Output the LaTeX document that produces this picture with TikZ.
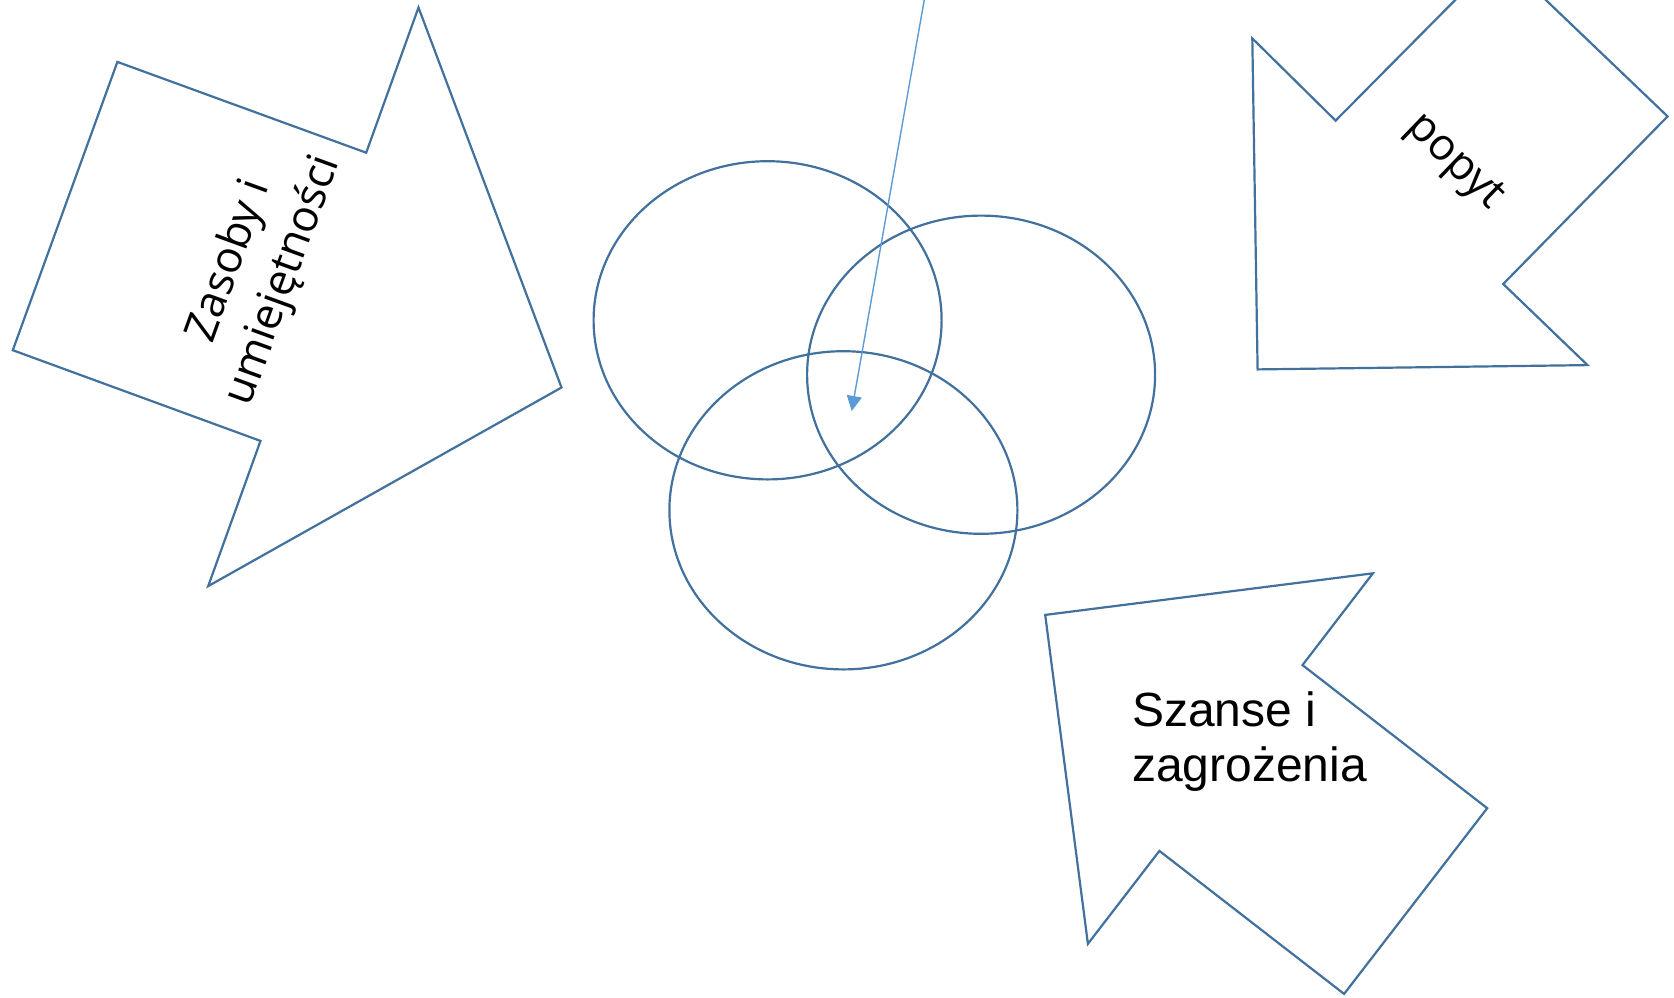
\documentclass[tikz,border=0pt]{standalone}
\usepackage{fontspec}
\newfontfamily\osans{Open Sans}
\newfontfamily\arialf{Liberation Sans}
\usetikzlibrary{arrows.meta}
\definecolor{outl}{HTML}{41719C}
\definecolor{thin}{HTML}{5B9BD5}
\tikzset{
  shapeline/.style={draw=outl, line width=2.2pt, line join=miter},
  ell/.style={draw=outl, line width=2.2pt},
  pointer/.style={draw=thin, line width=1.4pt, -{Triangle[length=15pt,width=15pt]}},
}
\begin{document}
\begin{tikzpicture}[x=1pt,y=-1pt]
\clip (0,0) rectangle (1674,997);
\fill[white] (0,0) rectangle (1674,997);
% left arrow
\draw[shapeline] (117.4,61.9) -- (366.2,152.7) -- (418.5,7.5) -- (561.5,387.5) -- (208.2,586.1) -- (260.5,440.9) -- (12.8,350.2) -- cycle;
% top right arrow
\draw[shapeline] (1252.3,38.4) -- (1335.6,120.6) -- (1499.3,-44.5) -- (1667.6,116.4) -- (1503.2,284.0) -- (1587.5,365.1) -- (1257.6,369.4) -- cycle;
% bottom right arrow
\draw[shapeline] (1045.2,614.9) -- (1372.9,573.3) -- (1302.5,665.1) -- (1487.2,808.2) -- (1344.1,993.9) -- (1159.4,850.9) -- (1087.9,943.8) -- cycle;
% ellipses
\draw[ell] (767.6,320.3) ellipse [x radius=174, y radius=159.1];
\draw[ell] (981.1,374.7) ellipse [x radius=174, y radius=159.1];
\draw[ell] (843.4,510.3) ellipse [x radius=174, y radius=159.1];
% thin pointer
\coordinate (ps) at (926,-10);
\coordinate (pe) at (851.7,411);
\draw[pointer] (ps) -- (pe);
% texts
\node[rotate=70, align=center, inner sep=0, font=\osans\fontsize{44}{57}\selectfont] (zas) at (257,271) {Zasoby i\\umiejętności};
\node[rotate=-44, inner sep=0, font=\osans\fontsize{44}{57}\selectfont] (pop) at (1454,163) {popyt};
\node[anchor=north west, align=left, inner sep=0, font=\arialf\fontsize{48}{55}\selectfont] (sz) at (1132,692) {Szanse i\\zagrożenia};
\end{tikzpicture}
\end{document}
